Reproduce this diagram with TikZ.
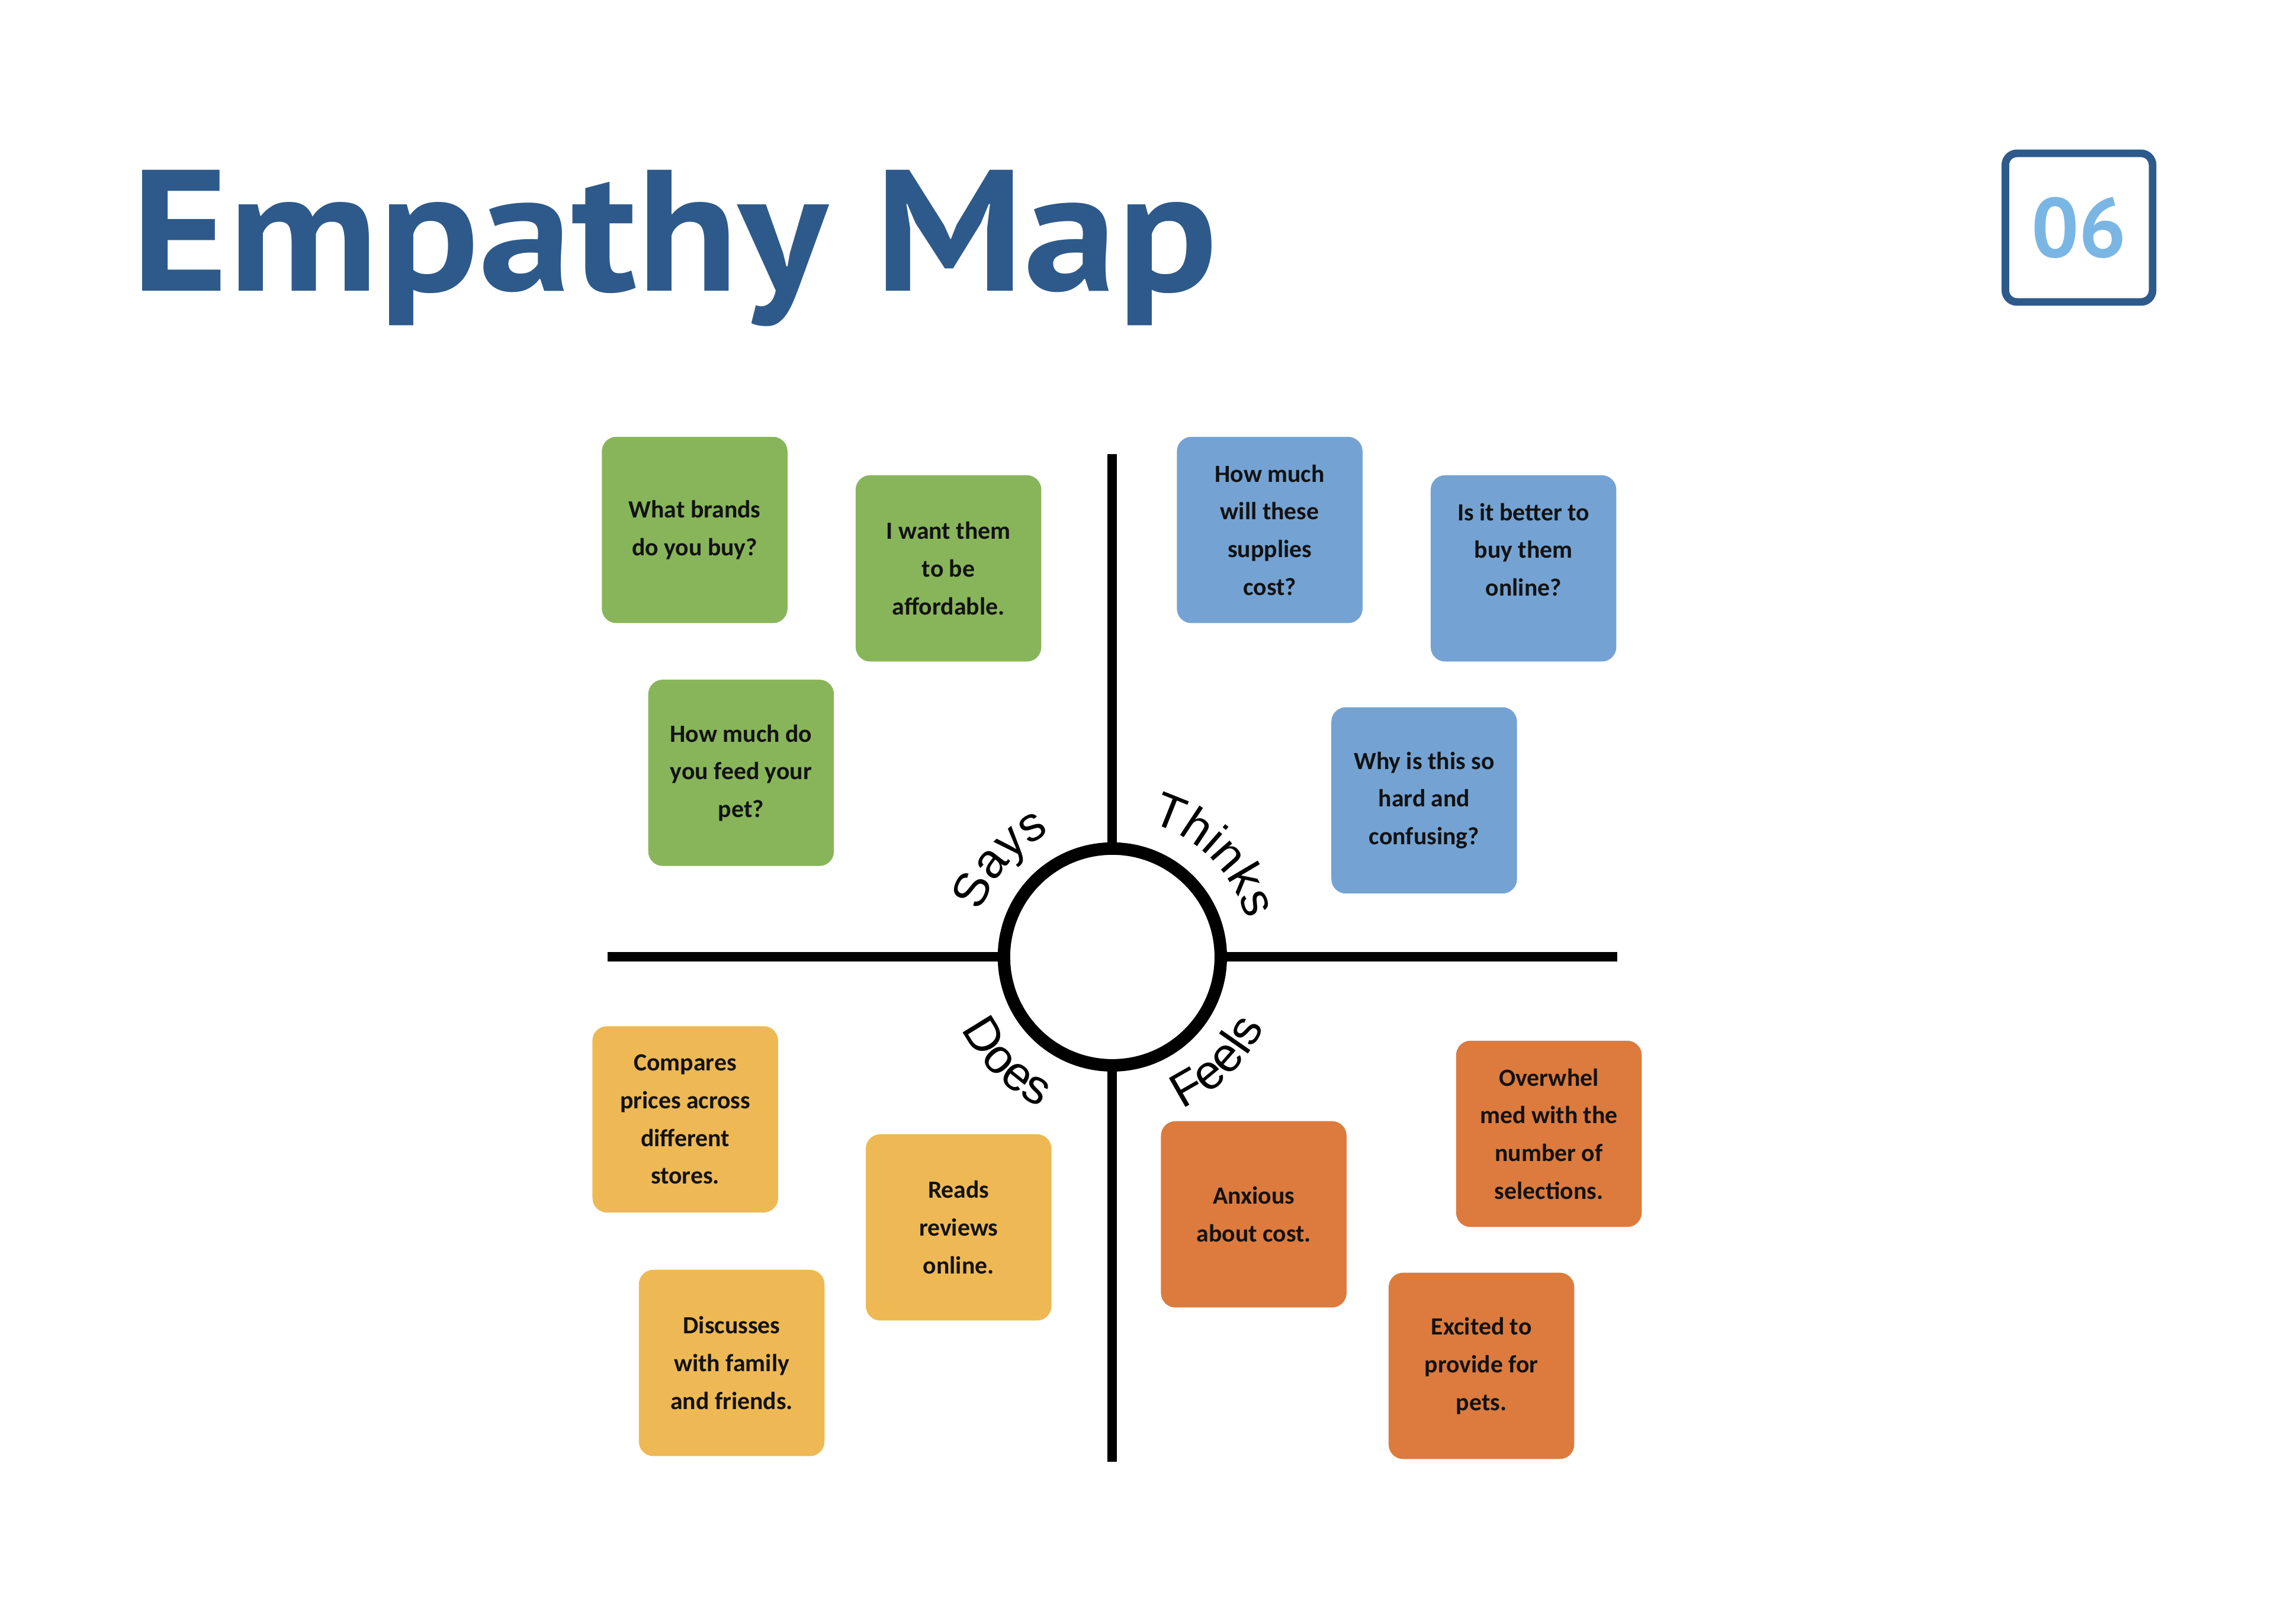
\documentclass[tikz,border=0pt]{standalone}
\usepackage{fontspec}
\setmainfont{Carlito}
\newfontfamily\titlefont{PT Sans}
\newfontfamily\headfont{PT Sans}[FakeStretch=1.08]
\newfontfamily\labelfont{Liberation Sans}
\usetikzlibrary{calc,decorations.text}

\definecolor{titleblue}{HTML}{2E5A8B}
\definecolor{numblue}{HTML}{7AB6E3}
\definecolor{saysgreen}{HTML}{88B55A}
\definecolor{thinksblue}{HTML}{74A3D3}
\definecolor{doesyellow}{HTML}{EEB954}
\definecolor{feelsorange}{HTML}{DC7B3D}
\newcommand\quadfont{\labelfont\fontsize{19}{23}\selectfont}

\begin{document}
\begin{tikzpicture}[
  note/.style={rounded corners=0.2cm, minimum width=2.56cm, minimum height=2.57cm,
               inner sep=0pt, align=center, text=black!93,
               font=\bfseries\fontsize{9.7}{14.8}\selectfont},
  says/.style={note, fill=saysgreen},
  thinks/.style={note, fill=thinksblue},
  does/.style={note, fill=doesyellow},
  feels/.style={note, fill=feelsorange},
  axis/.style={line width=3.7pt},
  quad/.style={decorate, decoration={text along path, text align=center,
               text={|\quadfont|#1}}}
]
\path[use as bounding box, fill=white] (0,0) rectangle (31.36,-22.4);

% Heading
\node[anchor=base west, inner sep=0pt, text=titleblue,
      font=\headfont\bfseries\fontsize{67.8}{68}\selectfont] at (1.8,-4.01) (title) {Empathy Map};
\node[draw=titleblue, line width=3pt, rounded corners=0.16cm,
      minimum width=2.03cm, minimum height=2.05cm, inner sep=0pt, text=numblue,
      font=\titlefont\bfseries\fontsize{33}{33}\selectfont] at (28.67,-3.14) (num) {06};

% Axes
\coordinate (ntop) at (15.34,-6.26);
\coordinate (nbot) at (15.34,-20.16);
\coordinate (wend) at (8.38,-13.2);
\coordinate (eend) at (22.3,-13.2);
\draw[axis] (ntop) -- (nbot);
\draw[axis] (wend) -- (eend);
\node[circle, draw, fill=white, line width=4.9pt, minimum size=2.99cm, inner sep=0pt]
      at (15.34,-13.2) (hub) {};

% Quadrant names round the hub
\path[quad=Says]   ($(hub.center)+(184:1.92)$) arc[start angle=184, end angle=94,  radius=1.92];
\path[quad=Thinks] ($(hub.center)+(90:1.92)$)  arc[start angle=90,  end angle=0,   radius=1.92];
\path[quad=Does]   ($(hub.center)+(180:2.3)$)  arc[start angle=180, end angle=270, radius=2.3];
\path[quad=Feels]  ($(hub.center)+(270:2.3)$)  arc[start angle=270, end angle=360, radius=2.3];

% Says
\node[says] at (9.58,-7.31)  (say1) {What brands\\do you buy?};
\node[says] at (13.08,-7.84) (say2) {I want them\\to be\\affordable.};
\node[says] at (10.22,-10.66) (say3) {How much do\\you feed your\\pet?};

% Thinks
\node[thinks] at (17.51,-7.31) (think1) {How much\\will these\\supplies\\cost?};
\node[thinks] at (21.01,-7.84) (think2) {Is it better to\\buy them\\online?\\~};
\node[thinks] at (19.64,-11.04) (think3) {Why is this so\\hard and\\confusing?};

% Does
\node[does] at (9.45,-15.44)  (do1) {Compares\\prices across\\different\\stores.};
\node[does] at (13.22,-16.93) (do2) {Reads\\reviews\\online.};
\node[does] at (10.09,-18.80) (do3) {Discusses\\with family\\and friends.};

% Feels
\node[feels] at (17.29,-16.75) (feel1) {Anxious\\about cost.};
\node[feels] at (21.36,-15.64) (feel2) {Overwhel\\med with the\\number of\\selections.};
\node[feels] at (20.43,-18.84) (feel3) {Excited to\\provide for\\pets.};

\end{tikzpicture}
\end{document}
